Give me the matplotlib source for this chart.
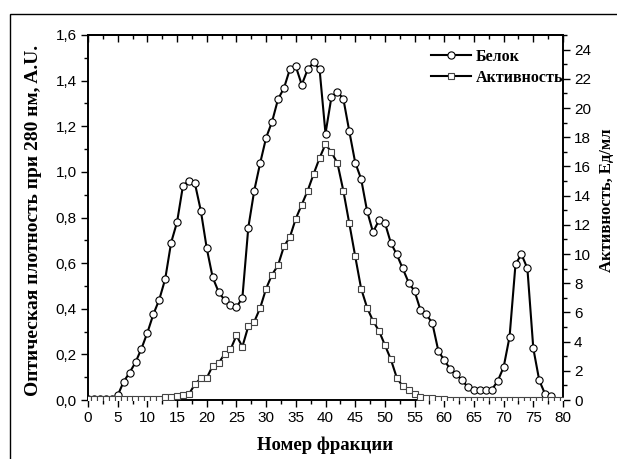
import matplotlib
matplotlib.use("Agg")
import matplotlib.pyplot as plt
from matplotlib.patches import Rectangle
from matplotlib.ticker import MultipleLocator, FuncFormatter

# ---- data ----
protein_fraction = list(range(0, 79))
protein = [0.005, 0.005, 0.005, 0.005, 0.005,
           0.02, 0.08, 0.12, 0.165, 0.225, 0.295, 0.375, 0.44, 0.53, 0.69,
           0.78, 0.94, 0.96, 0.95, 0.83, 0.665, 0.537, 0.474, 0.438, 0.416,
           0.406, 0.448, 0.756, 0.918, 1.039, 1.150, 1.220, 1.318, 1.367, 1.450,
           1.462, 1.382, 1.449, 1.480, 1.450, 1.168, 1.328, 1.350, 1.321, 1.179,
           1.041, 0.969, 0.829, 0.736, 0.787, 0.777, 0.689, 0.638, 0.577, 0.515,
           0.477, 0.394, 0.375, 0.336, 0.216, 0.174, 0.136, 0.115, 0.086, 0.056,
           0.045, 0.045, 0.045, 0.045, 0.083, 0.144, 0.277, 0.595, 0.639, 0.577,
           0.226, 0.086, 0.025, 0.016]

activity_fraction = list(range(0, 81))
activity = [0.05] * 12 + [
    0.09, 0.19, 0.23, 0.27, 0.36, 0.41, 1.07, 1.50, 1.51,
    2.34, 2.52, 3.15, 3.46, 4.42, 3.65, 5.05, 5.36, 6.31, 7.63,
    8.59, 9.22, 10.52, 11.16, 12.42, 13.38, 14.34, 15.48, 16.57, 17.53,
    16.96, 16.24, 14.34, 12.11, 9.85, 7.63, 6.33, 5.42, 4.74, 3.77,
    2.79, 1.53, 0.94, 0.66, 0.40, 0.22, 0.16, 0.13, 0.08, 0.06] + [0.03] * 20

x_ticks = list(range(0, 81, 5))
left_ticks = [0.0, 0.2, 0.4, 0.6, 0.8, 1.0, 1.2, 1.4, 1.6]
right_ticks = list(range(0, 25, 2))

label_protein = "Белок"
label_activity = "Активность"
xlabel = "Номер фракции"
ylabel_left = "Оптическая плотность при 280 нм, A.U."
ylabel_right = "Активность, Ед/мл"

# ---- figure ----
W, H = 617, 459
fig = plt.figure(figsize=(W / 100, H / 100), dpi=100)
ax = fig.add_axes([88 / W, 1 - 400 / H, (563 - 88) / W, (400 - 35) / H])

tick_family = ["Liberation Sans", "DejaVu Sans"]
tick_size = 11
serif = ["Liberation Serif", "DejaVu Serif"]

l1, = ax.plot(protein_fraction, protein, color="black", lw=1.5, marker="o",
              ms=5.2, mfc="white", mec="black", mew=0.8, label=label_protein, zorder=3)
ax.set_xlim(0, 80)
ax.set_ylim(0, 1.6)
ax.set_xticks(x_ticks)
ax.xaxis.set_minor_locator(MultipleLocator(2.5))
ax.set_yticks(left_ticks)
ax.yaxis.set_minor_locator(MultipleLocator(0.1))
ax.yaxis.set_major_formatter(FuncFormatter(lambda v, p: f"{v:.1f}".replace(".", ",")))
ax.tick_params(which="both", direction="out", width=1.0, right=False, top=False)
ax.tick_params(which="major", length=5, pad=3)
ax.tick_params(which="minor", length=3)
for lab in ax.get_xticklabels() + ax.get_yticklabels():
    lab.set_fontfamily(tick_family)
    lab.set_fontsize(tick_size)
for s in ax.spines.values():
    s.set_linewidth(1.2)

# top ticks inward
sec = ax.secondary_xaxis("top")
sec.set_xticks(x_ticks)
sec.xaxis.set_minor_locator(MultipleLocator(2.5))
sec.tick_params(which="both", direction="in", labeltop=False, width=1.0)
sec.tick_params(which="major", length=5)
sec.tick_params(which="minor", length=3)
sec.spines["top"].set_linewidth(1.2)

ax2 = ax.twinx()
l2, = ax2.plot(activity_fraction, activity, color="black", lw=1.5, marker="s",
               ms=4.3, mfc="white", mec="#444444", mew=0.8, label=label_activity, zorder=3)
ax2.set_ylim(0, 25)
ax2.set_yticks(right_ticks)
ax2.yaxis.set_minor_locator(MultipleLocator(1))
ax2.tick_params(which="both", direction="out", width=1.0)
ax2.tick_params(which="major", length=5, pad=3)
ax2.tick_params(which="minor", length=3)
for lab in ax2.get_yticklabels():
    lab.set_fontfamily(tick_family)
    lab.set_fontsize(tick_size)
for s in ax2.spines.values():
    s.set_linewidth(1.2)

fig.text(325 / W, 1 - 445 / H, xlabel, ha="center", va="center",
         family=serif, size=13.5, weight="bold")
fig.text(34 / W, 1 - 220 / H, ylabel_left, ha="center", va="center", rotation=90,
         family=serif, size=14, weight="bold")
fig.text(607 / W, 1 - 200 / H, ylabel_right, ha="center", va="center", rotation=90,
         family=serif, size=12, weight="bold")

leg = ax2.legend(handles=[l1, l2], loc="upper left",
                 bbox_to_anchor=(431 / W, 1 - 49 / H), bbox_transform=fig.transFigure,
                 frameon=False, borderpad=0, borderaxespad=0, handlelength=2.5,
                 handletextpad=0.3, labelspacing=0.3,
                 prop=dict(family=serif, size=11.5, weight="bold"))

# outer frame
fig.patches.append(Rectangle((10 / W, -0.1), 1.2, 1.1 - 14 / H, transform=fig.transFigure,
                             fill=False, edgecolor="black", lw=1.0, clip_on=False))

fig.savefig("out.png", dpi=100)
